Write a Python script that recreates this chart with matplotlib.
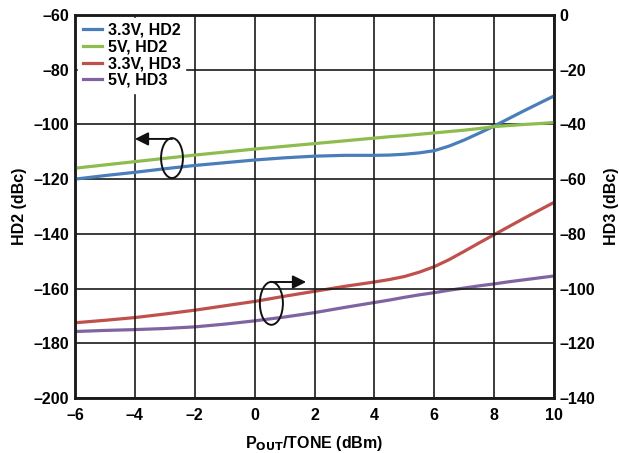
import matplotlib.pyplot as plt
from matplotlib.patches import Ellipse
from matplotlib.ticker import FuncFormatter

plt.rcParams['font.family'] = ['Liberation Sans', 'DejaVu Sans']
plt.rcParams['font.weight'] = 'bold'
plt.rcParams['mathtext.default'] = 'bf'

pout = [-6, -5, -4, -3, -2, -1, 0, 1, 2, 3,
        4, 4.5, 5, 5.5, 6, 6.5, 7, 7.5, 8, 8.5, 9, 9.5, 10]

# HD2, left axis (dBc)
hd2_33v = [-120, -118.7, -117.5, -116.2, -115, -114, -113, -112.2, -111.6, -111.3,
           -111.3, -111.2, -110.9, -110.4, -109.6, -107.9, -105.7, -103.2, -100.6,
           -97.8, -95.0, -92.3, -89.6]
hd2_5v = [-116, -114.8, -113.6, -112.4, -111.2, -110.1, -109.0, -108.0, -107, -106,
          -105, -104.5, -104.1, -103.6, -103.1, -102.6, -102.1, -101.5, -100.8,
          -100.4, -100.0, -99.7, -99.3]

# HD3, right axis (dBc)
hd3_33v = [-112.5, -111.6, -110.6, -109.3, -107.9, -106.3, -104.7, -102.8, -101, -99.2,
           -97.6, -96.7, -95.6, -94.0, -92.0, -89.4, -86.4, -83.3, -80.3,
           -77.3, -74.3, -71.4, -68.5]
hd3_5v = [-115.7, -115.3, -115.0, -114.6, -114.0, -113.0, -111.8, -110.4, -108.8, -106.9,
          -105.1, -104.2, -103.2, -102.3, -101.5, -100.6, -99.8, -99.0, -98.3,
          -97.5, -96.8, -96.1, -95.4]

c_blue = '#4a7ebb'
c_green = '#8ebd4f'
c_red = '#c0504d'
c_purple = '#8064a2'

fig, ax = plt.subplots(figsize=(6.19, 4.53), dpi=100)
fig.subplots_adjust(left=75/619, right=554/619, top=1-15/453, bottom=1-398/453)
ax2 = ax.twinx()

lw = 2.3
l1, = ax.plot(pout, hd2_33v, color=c_blue, lw=lw, solid_joinstyle='round', label='3.3V, HD2')
l2, = ax.plot(pout, hd2_5v, color=c_green, lw=lw, solid_joinstyle='round', label='5V, HD2')
l3, = ax2.plot(pout, hd3_33v, color=c_red, lw=lw, solid_joinstyle='round', label='3.3V, HD3')
l4, = ax2.plot(pout, hd3_5v, color=c_purple, lw=lw, solid_joinstyle='round', label='5V, HD3')

ax.set_xlim(-6, 10)
ax.set_ylim(-200, -60)
ax2.set_ylim(-140, 0)
ax.set_xticks(range(-6, 11, 2))
ax.set_yticks(range(-200, -59, 20))
ax2.set_yticks(range(-140, 1, 20))
ax.grid(True, color='#1a1a1a', lw=1.2)

dash = FuncFormatter(lambda v, p: ('%d' % v).replace('-', '\u2013'))
fs = 11.5
for a in (ax, ax2):
    a.xaxis.set_major_formatter(dash)
    a.yaxis.set_major_formatter(dash)
    a.tick_params(axis='y', length=0, labelsize=fs, pad=4)
    a.tick_params(axis='x', length=0, labelsize=fs, pad=7)
    for lab in a.get_xticklabels() + a.get_yticklabels():
        lab.set_fontweight('bold')
    for s in a.spines.values():
        s.set_linewidth(1.8)
        s.set_color('#1a1a1a')

ax.set_ylabel('HD2 (dBc)', fontsize=fs, fontweight='bold', labelpad=5)
ax2.set_ylabel('HD3 (dBc)', fontsize=fs, fontweight='bold', labelpad=6)
ax.set_xlabel(r'P$_\mathbf{OUT}$/TONE (dBm)', fontsize=fs, fontweight='bold', labelpad=8)

# bring the HD2 axis to the front so the legend sits over the grid
ax.set_zorder(ax2.get_zorder() + 1)
ax.patch.set_visible(False)
ax2.set_zorder(0)

leg = ax.legend(handles=[l1, l2, l3, l4], loc='upper left', frameon=True,
                prop={'size': fs, 'weight': 'bold'}, handlelength=1.2, handletextpad=0.35,
                labelspacing=0.1, borderaxespad=0.2, borderpad=0.3)
leg.get_frame().set_edgecolor('white')
leg.get_frame().set_facecolor('white')
leg.get_frame().set_alpha(1)

# left group marker: ellipse with arrow pointing to HD2 axis
ax.add_patch(Ellipse((-2.76, -112.3), 0.73, 14.6, fill=False, ec='#111111', lw=1.4, zorder=5))
ax.annotate('', xy=(-4.0, -105.3), xytext=(-2.76, -105.3),
            arrowprops=dict(arrowstyle='-|>', color='#111111', lw=1.4, mutation_scale=20,
                            shrinkA=0, shrinkB=0), zorder=5)

# right group marker: ellipse with arrow pointing to HD3 axis
ax.add_patch(Ellipse((0.56, -165.4), 0.77, 15.7, fill=False, ec='#111111', lw=1.4, zorder=5))
ax.annotate('', xy=(1.72, -157.6), xytext=(0.56, -157.6),
            arrowprops=dict(arrowstyle='-|>', color='#111111', lw=1.4, mutation_scale=20,
                            shrinkA=0, shrinkB=0), zorder=5)

fig.savefig('out.png', dpi=100)
